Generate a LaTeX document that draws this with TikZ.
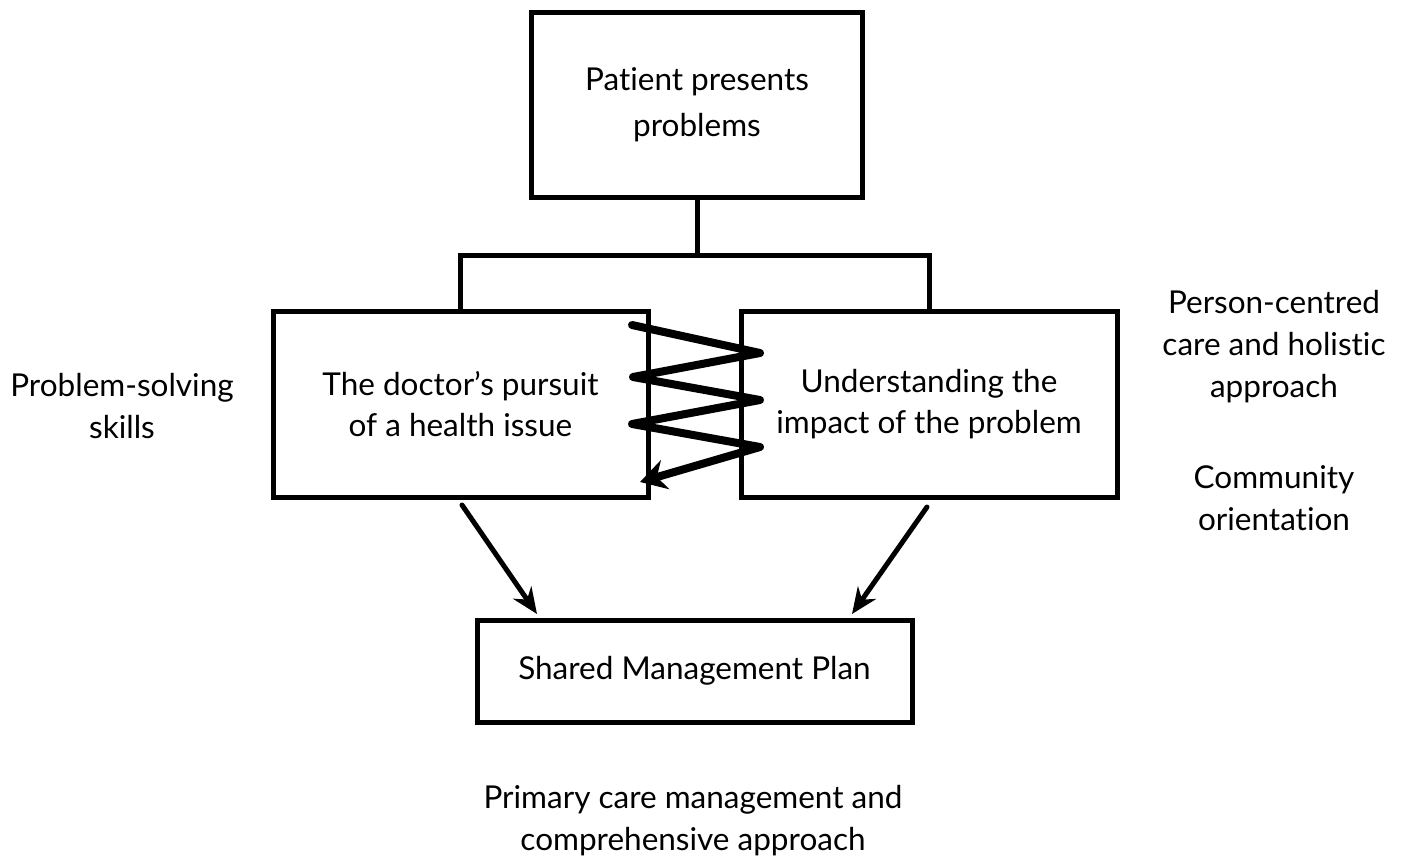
\documentclass[tikz,border=0pt]{standalone}
\usepackage{fontspec}
\setmainfont{Lato}[Ligatures=NoCommon]
\usetikzlibrary{arrows.meta}
\begin{document}
\begin{tikzpicture}[x=1pt,y=-1pt,
  box/.style={draw=black,line width=5pt,fill=white,align=center,inner sep=0pt,
    font=\fontsize{31.5}{41}\selectfont},
  lbl/.style={align=center,inner sep=0pt,font=\fontsize{31.5}{42}\selectfont},
  conn/.style={line width=5pt,line join=miter},
  arr/.style={line width=5pt,line cap=round,-{Stealth[length=26pt,width=22pt]}},
  zz/.style={line width=8pt,line cap=round,line join=round,-{Stealth[length=26pt,width=30pt]}}]
\useasboundingbox (0,0) rectangle (1408,865);
\node[box,minimum width=331pt,minimum height=185pt,font=\fontsize{31.5}{46}\selectfont] (top) at (697,104.5) {Patient presents\\problems};
\node[box,minimum width=375pt,minimum height=186pt] (left) at (460.5,404) {The doctor’s pursuit\\of a health issue};
\node[box,minimum width=376pt,minimum height=186pt] (right) at (929,404) {Understanding the\\impact of the problem};
\node[box,minimum width=435pt,minimum height=102pt] (plan) at (694.5,671) {Shared Management Plan};
\node[lbl] (ps) at (122,406) {Problem-solving\\skills};
\node[lbl] (pc) at (1274,347) {Person-centred\\care and holistic\\approach};
\node[lbl] (co) at (1274,498) {Community\\orientation};
\node[lbl] (pcm) at (693,821) {Primary care management and\\comprehensive approach};
\coordinate (bar) at (697,255);
\draw[conn] (top.south) -- (bar);
\draw[conn] (left.north) |- (bar) -| (right.north);
\coordinate (a1s) at (462,505);
\coordinate (a1e) at (537,614);
\coordinate (a2s) at (927,507);
\coordinate (a2e) at (852,614);
\draw[arr] (a1s) -- (a1e);
\draw[arr] (a2s) -- (a2e);
\coordinate (z0) at (632,325);
\coordinate (z1) at (760,353);
\coordinate (z2) at (633,377);
\coordinate (z3) at (760,400);
\coordinate (z4) at (632,424);
\coordinate (z5) at (760,447);
\coordinate (z6) at (640,482);
\draw[zz] (z0) -- (z1) -- (z2) -- (z3) -- (z4) -- (z5) -- (z6);
\end{tikzpicture}
\end{document}
